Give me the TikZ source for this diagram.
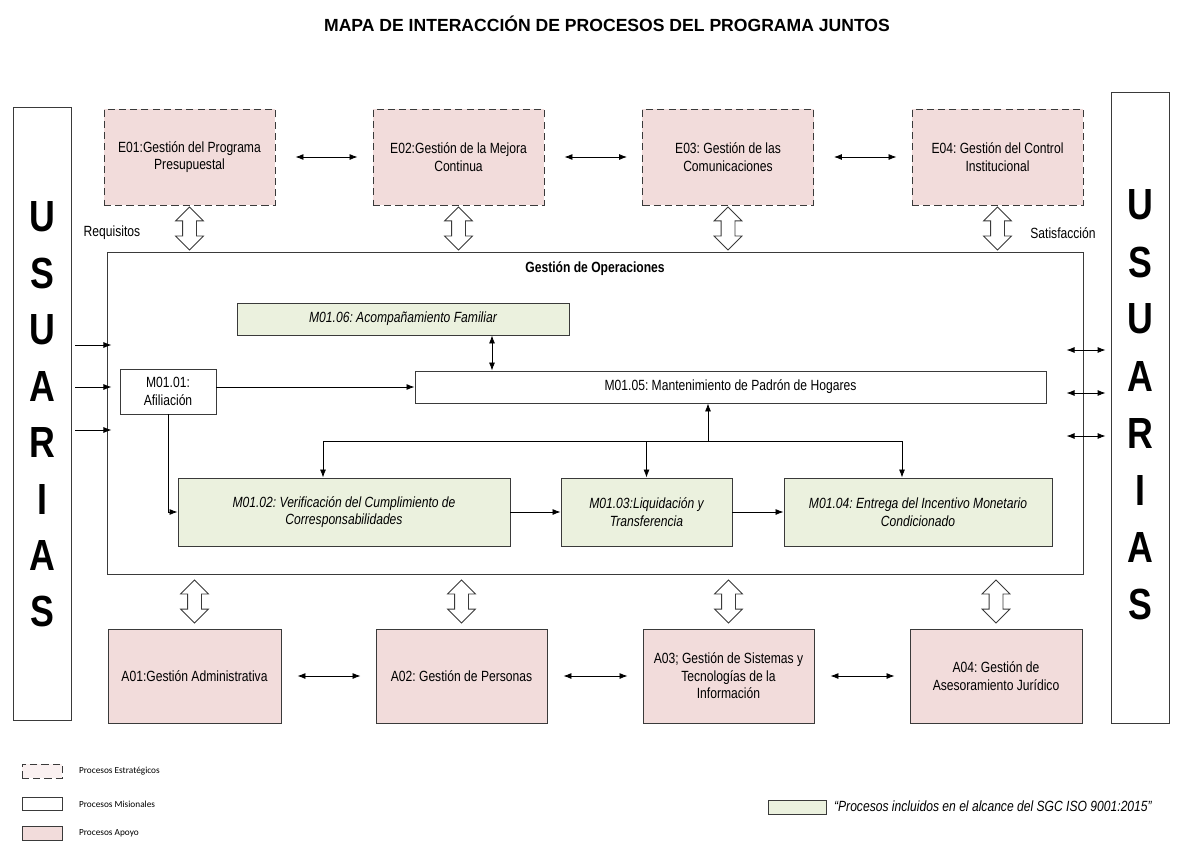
\documentclass[tikz,border=0pt]{standalone}
\usepackage{fontspec}
\setmainfont{Liberation Sans}[FakeStretch=0.82]
\newfontfamily\titlefont{Liberation Sans}
\newfontfamily\legendfont{Carlito}
\usepackage{xcolor}
\usetikzlibrary{shapes.arrows,calc,arrows.meta}
\definecolor{pinkfill}{HTML}{F2DCDB}
\definecolor{greenfill}{HTML}{EBF1DE}
\definecolor{linegray}{HTML}{3A3A3A}
\frenchspacing

\begin{document}
\begin{tikzpicture}[
    x=0.025cm, y=-0.025cm,
    >={Latex[length=0.2cm,width=0.15cm]},
    semithick,
    every node/.style={font=\fontsize{10.5}{12.5}\selectfont, align=center},
    proc/.style={draw=linegray, rectangle, inner sep=2pt},
    estrat/.style={proc, fill=pinkfill, dash pattern=on 5pt off 3pt,
        minimum width=4.275cm, minimum height=2.4cm},
    apoyobox/.style={proc, fill=pinkfill, minimum height=2.35cm},
    mision/.style={proc, fill=white},
    alcance/.style={proc, fill=greenfill,
        font=\fontsize{10.5}{12.5}\selectfont\itshape},
    hollow/.style={double arrow, draw=linegray, fill=white, rotate=90,
        minimum height=1.075cm, minimum width=0.675cm,
        double arrow head extend=0.175cm, inner xsep=0pt, inner ysep=0.1625cm},
    usuaria/.style={draw=linegray, rectangle, minimum width=1.45cm},
    letra/.style={font=\fontsize{31}{31}\selectfont\bfseries},
    legend/.style={font=\legendfont\fontsize{6.6}{8}\selectfont, anchor=west}
]
\useasboundingbox (0,0) rectangle (1177,842);

% Title
\node[font=\titlefont\fontsize{12.5}{14}\selectfont\bfseries] (title) at (607,24)
    {MAPA DE INTERACCIÓN DE PROCESOS DEL PROGRAMA JUNTOS};

% Usuarias
\node[usuaria, minimum height=15.325cm] (usL) at (42,413.5) {};
\node[usuaria, minimum height=15.75cm] (usR) at (1140,408) {};
\foreach \ch [count=\i] in {U,S,U,A,R,I,A,S} {
    \node[letra] (l\i) at (42,{217+56.4*(\i-1)}) {\ch};
    \node[letra] (r\i) at (1140,{205+57.1*(\i-1)}) {\ch};
}

% Estrategicos
\node[estrat] (E1) at (189.5,157) {E01:Gestión del Programa\\Presupuestal};
\node[estrat] (E2) at (458.5,157) {E02:Gestión de la Mejora\\Continua};
\node[estrat] (E3) at (728,157) {E03: Gestión de las\\Comunicaciones};
\node[estrat] (E4) at (997.5,157) {E04: Gestión del Control\\Institucional};

% Gestion de Operaciones
\node[proc, minimum width=24.375cm, minimum height=8.05cm] (ops) at (595.5,413) {};
\node[font=\fontsize{10.5}{12.5}\selectfont\bfseries] (opsT) at (595,269) {Gestión de Operaciones};

\node[alcance, minimum width=8.3cm, minimum height=0.8cm] (M6) at (403,319)
    {M01.06: Acompañamiento Familiar};
\node[mision, minimum width=2.4cm, minimum height=1.125cm] (M1) at (168,391.5)
    {M01.01:\\Afiliación};
\node[mision, minimum width=15.775cm, minimum height=0.8cm] (M5) at (730.5,387)
    {M01.05: Mantenimiento de Padrón de Hogares};
\node[alcance, minimum width=8.3cm, minimum height=1.7cm] (M2) at (344,512)
    {M01.02: Verificación del Cumplimiento de\\Corresponsabilidades};
\node[alcance, minimum width=4.275cm, minimum height=1.7cm] (M3) at (646.5,512)
    {M01.03:Liquidación y\\Transferencia};
\node[alcance, minimum width=6.7cm, minimum height=1.7cm] (M4) at (918,512)
    {M01.04: Entrega del Incentivo Monetario\\Condicionado};

% Apoyo
\node[apoyobox, minimum width=4.325cm] (A1) at (194.5,676) {A01:Gestión Administrativa};
\node[apoyobox, minimum width=4.275cm] (A2) at (461.5,676) {A02: Gestión de Personas};
\node[apoyobox, minimum width=4.275cm] (A3) at (728.5,676)
    {A03; Gestión de Sistemas y\\Tecnologías de la\\Información};
\node[apoyobox, minimum width=4.3cm] (A4) at (996,676)
    {A04: Gestión de\\Asesoramiento Jurídico};

% Labels
\node (req) at (112,233) {Requisitos};
\node (sat) at (1063,233) {Satisfacción};

% Hollow arrows
\foreach \n in {1,2,3,4} {
    \node[hollow] (hE\n) at ($(E\n.south)!0.5!(E\n.south |- ops.north)$) {};
    \node[hollow] (hA\n) at ($(A\n.north)!0.5!(A\n.north |- ops.south)$) {};
}

% Connections
\draw[<->, shorten <=0.5cm, shorten >=0.375cm] (E1) -- (E2);
\draw[<->, shorten <=0.5cm, shorten >=0.375cm] (E2) -- (E3);
\draw[<->, shorten <=0.5cm, shorten >=0.375cm] (E3) -- (E4);
\draw[<->, shorten <=0.4cm, shorten >=0.375cm] (A1) -- (A2);
\draw[<->, shorten <=0.4cm, shorten >=0.375cm] (A2) -- (A3);
\draw[<->, shorten <=0.4cm, shorten >=0.375cm] (A3) -- (A4);

\foreach \yy in {345,387,430}
    \draw[->, shorten <=0.1cm, shorten >=-0.1cm] (usL.east |- 0,\yy) -- (ops.west |- 0,\yy);
\foreach \yy in {350,393,436}
    \draw[<->, shorten <=-0.425cm, shorten >=0.125cm] (ops.east |- 0,\yy) -- (usR.west |- 0,\yy);

\draw[<->] (M6.south -| 492,0) -- (M5.north -| 492,0);
\draw[->] (M1.east |- M5) -- (M5.west);
\draw[->] (M1.south) |- (M2.west);

\coordinate (jL) at (323,441);
\coordinate (jM) at (708,441);
\coordinate (jR) at (902,441);
\draw (jL) -- (jR);
\draw[->] (jM) -- (jM |- M5.south);
\draw[->] (jL) -- (jL |- M2.north);
\draw[->] (M3.north |- jL) -- (M3.north);
\draw[->] (jR) -- (jR |- M4.north);
\draw[->] (M2) -- (M3);
\draw[->] (M3) -- (M4);

% Legend
\node[proc, fill=pinkfill!40, dash pattern=on 5pt off 3pt, minimum width=1cm, minimum height=0.35cm,
    inner sep=0pt] (k1) at (42,771) {};
\node[proc, minimum width=1cm, minimum height=0.325cm, inner sep=0pt] (k2) at (42,804) {};
\node[proc, fill=pinkfill, minimum width=1cm, minimum height=0.35cm, inner sep=0pt] (k3) at (42,833) {};
\node[legend] (k1T) at (74,771) {Procesos Estratégicos};
\node[legend] (k2T) at (74,804) {Procesos Misionales};
\node[legend] (k3T) at (74,833) {Procesos Apoyo};
\node[proc, fill=greenfill, minimum width=1.45cm, minimum height=0.35cm, inner sep=0pt] (k4) at (797,807) {};
\node[anchor=west, font=\fontsize{10.5}{12.5}\selectfont\itshape] (k4T) at (829,806)
    {``Procesos incluidos en el alcance del SGC ISO 9001:2015''};

\end{tikzpicture}
\end{document}
